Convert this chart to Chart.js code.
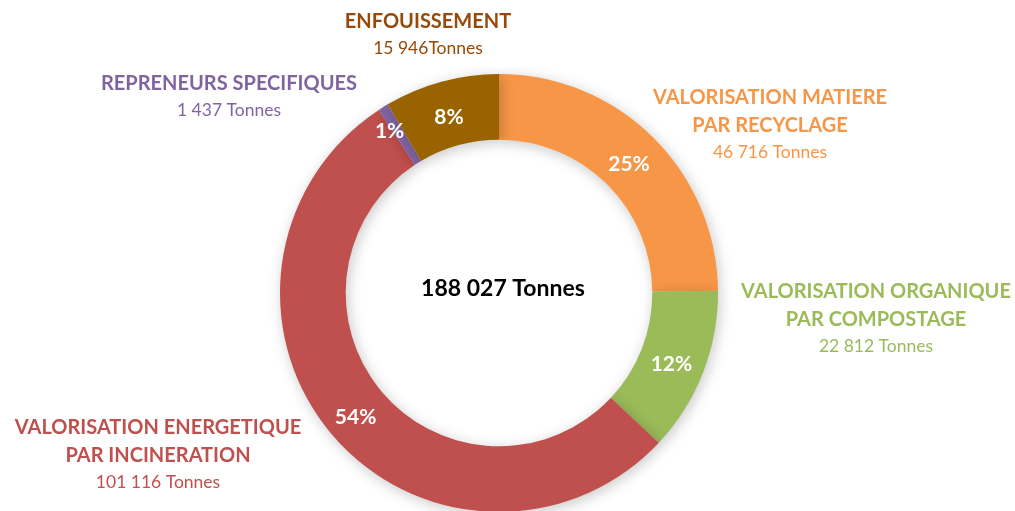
<!DOCTYPE html>
<html>
<head>
<meta charset="utf-8">
<script src="https://cdn.jsdelivr.net/npm/chart.js@4"></script>
<style>
  html, body { margin: 0; padding: 0; background: #fff; overflow: hidden; }
  #wrap { width: 1015px; height: 520px; position: relative; }
</style>
</head>
<body>
<div id="wrap"><canvas id="donut"></canvas></div>
<script>
// data, clockwise from 12 o'clock
var categories = ['VALORISATION MATIERE|PAR RECYCLAGE', 'VALORISATION ORGANIQUE|PAR COMPOSTAGE',
    'VALORISATION ENERGETIQUE|PAR INCINERATION', 'REPRENEURS SPECIFIQUES', 'ENFOUISSEMENT'];
var tonnes = [46716, 22812, 101116, 1437, 15946];
var tonnesLabels = ['46 716 Tonnes', '22 812 Tonnes', '101 116 Tonnes', '1 437 Tonnes', '15 946Tonnes'];
var percentLabels = ['25%', '12%', '54%', '1%', '8%'];
var centerLabel = '188 027 Tonnes';

var sliceColors = ['#F79646', '#9BBB59', '#C0504D', '#8064A2', '#996300'];
var textColors = ['#F79646', '#9BBB59', '#C0504D', '#8064A2', '#984807'];
// where each outer label block is centred (x, y of first line)
var labelPos = [[770, 98], [876, 292], [158, 428], [229, 84], [428, 22]];

var font = 'Lato, "Open Sans", sans-serif';

var shadowPlugin = {
    id: 'ringShadow',
    beforeDatasetDraw: function(chart) {
        var ctx = chart.ctx;
        ctx.save();
        ctx.shadowColor = 'rgba(0,0,0,0.22)';
        ctx.shadowBlur = 14;
        ctx.shadowOffsetX = 2;
        ctx.shadowOffsetY = 3;
    },
    afterDatasetDraw: function(chart) {
        chart.ctx.restore();
    }
};

var labelPlugin = {
    id: 'donutLabels',
    afterDraw: function(chart) {
        var ctx = chart.ctx;
        var arcs = chart.getDatasetMeta(0).data;
        ctx.save();
        ctx.textAlign = 'center';
        ctx.textBaseline = 'middle';

        // percentages on the ring
        ctx.fillStyle = '#fff';
        ctx.font = 'bold 21px ' + font;
        arcs.forEach(function(arc, i) {
            var p = arc.tooltipPosition();
            if (i == 3) {
                ctx.fillText(percentLabels[i], p.x - 11, p.y - 4);
            } else {
                ctx.fillText(percentLabels[i], p.x - 1, p.y + 4);
            }
        });

        // center total
        ctx.fillStyle = '#000';
        ctx.font = 'bold 23px ' + font;
        ctx.fillText(centerLabel, arcs[0].x + 4, arcs[0].y - 4);

        // outer labels
        for (var i = 0; i < categories.length; i++) {
            var lines = categories[i].split('|');
            var x = labelPos[i][0], y = labelPos[i][1];
            ctx.fillStyle = textColors[i];
            ctx.font = 'bold 20px ' + font;
            lines.forEach(function(line, j) {
                ctx.fillText(line, x, y + j * 28);
            });
            ctx.font = '17.5px ' + font;
            ctx.fillText(tonnesLabels[i], x, y + lines.length * 28 - 2);
        }
        ctx.restore();
    }
};

new Chart(document.getElementById('donut').getContext('2d'), {
    type: 'doughnut',
    data: {
        labels: categories,
        datasets: [{
            data: tonnes,
            backgroundColor: sliceColors,
            borderWidth: 0
        }]
    },
    options: {
        responsive: true,
        maintainAspectRatio: false,
        animation: false,
        cutout: '70%',
        layout: { padding: { top: 74, bottom: 8, left: 280, right: 297 } },
        plugins: {
            legend: { display: false },
            tooltip: { enabled: false }
        }
    },
    plugins: [shadowPlugin, labelPlugin]
});
</script>
</body>
</html>
